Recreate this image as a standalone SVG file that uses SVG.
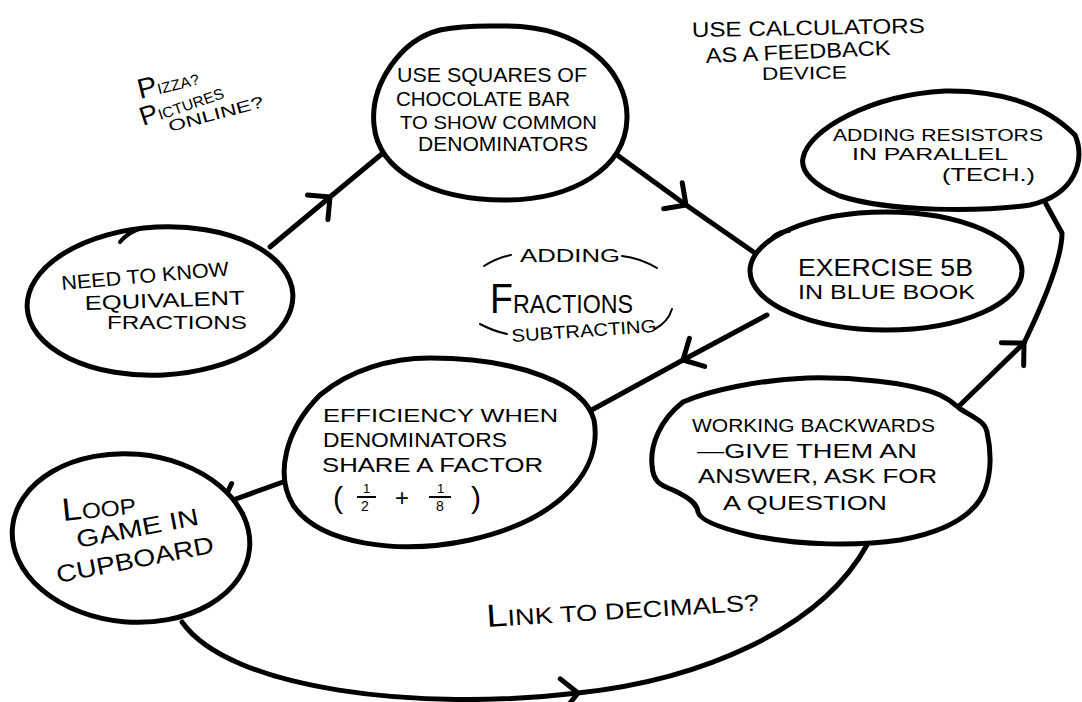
<svg xmlns="http://www.w3.org/2000/svg" width="1082" height="702" viewBox="0 0 1082 702">
<defs>
<style>
.bg{fill:#fff}
.node{fill:#fff;stroke:#000;stroke-width:5;stroke-linejoin:round}
.hook{fill:none;stroke:#000;stroke-width:4;stroke-linecap:round}
.con{fill:none;stroke:#000;stroke-width:5;stroke-linecap:round;stroke-linejoin:round}
.dash{fill:none;stroke:#000;stroke-width:2;stroke-linecap:round}
.t{font-family:"Liberation Sans",Arial,sans-serif;fill:#000}
.bar{stroke:#000;stroke-width:2}
</style>
<marker id="arr" markerUnits="userSpaceOnUse" viewBox="-24 -24 30 48" markerWidth="30" markerHeight="48" refX="0" refY="0" orient="auto" overflow="visible">
<path d="M -16 -16 L 0 0 L -16 16" fill="none" stroke="#000" stroke-width="5" stroke-linecap="round" stroke-linejoin="round"/>
</marker>
</defs>
<rect class="bg" x="0" y="0" width="1082" height="702"/>

<g id="connectors">
<path class="con" marker-mid="url(#arr)" d="M 270 247 L 330 197 L 383 153"/>
<path class="con" marker-mid="url(#arr)" d="M 613 152 L 686 205 L 755 253"/>
<path class="con" marker-mid="url(#arr)" d="M 767 315 L 683 360 L 588 412"/>
<path class="con" marker-end="url(#arr)" d="M 283 482 L 222 504"/>
<path class="con" marker-mid="url(#arr)" d="M 182 622 C 230 690 420 712 578 693 C 700 680 820 630 867 545"/>
<path class="con" marker-end="url(#arr)" d="M 958 407 L 1024 343"/>
<path class="con" d="M 1024 343 C 1040 310 1062 260 1062 233 L 1046 204"/>
</g>

<g id="note-pizza">
<text class="t" x="140" y="99" font-size="15" textLength="62" lengthAdjust="spacingAndGlyphs" transform="rotate(-14 140 99)"><tspan font-size="28">P</tspan>IZZA?</text>
<text class="t" x="143" y="126" font-size="15" textLength="87" lengthAdjust="spacingAndGlyphs" transform="rotate(-19 143 126)"><tspan font-size="26">P</tspan>ICTURES</text>
<text class="t" x="170" y="132" font-size="16" textLength="98" lengthAdjust="spacingAndGlyphs" transform="rotate(-15 170 132)">ONLINE?</text>
</g>

<g id="note-calculators">
<text class="t" x="692" y="37" font-size="21" textLength="233" lengthAdjust="spacingAndGlyphs" transform="rotate(-1 692 37)">USE CALCULATORS</text>
<text class="t" x="706" y="63" font-size="21" textLength="185" lengthAdjust="spacingAndGlyphs" transform="rotate(-2.5 706 63)">AS A FEEDBACK</text>
<text class="t" x="762" y="80" font-size="18" textLength="85" lengthAdjust="spacingAndGlyphs" transform="rotate(-1 762 80)">DEVICE</text>
</g>

<g id="title">
<path class="dash" d="M 484 266 Q 496 258 511 255"/>
<text class="t" x="520" y="262" font-size="18" textLength="100" lengthAdjust="spacingAndGlyphs">ADDING</text>
<path class="dash" d="M 622 256 Q 640 258 657 268"/>
<text class="t" x="490" y="313" font-size="26" textLength="143" lengthAdjust="spacingAndGlyphs"><tspan font-size="42">F</tspan>RACTIONS</text>
<path class="dash" d="M 480 324 Q 493 331 507 334"/>
<text class="t" x="512" y="342" font-size="18" textLength="145" lengthAdjust="spacingAndGlyphs" transform="rotate(-4 512 342)">SUBTRACTING</text>
<path class="dash" d="M 672 309 Q 668 322 655 329"/>
</g>

<g id="note-decimals">
<text class="t" x="487" y="627" font-size="23" textLength="273" lengthAdjust="spacingAndGlyphs" transform="rotate(-3.5 487 627)"><tspan font-size="32">L</tspan>INK TO DECIMALS?</text>
</g>

<g id="node-equivalent">
<ellipse class="node" cx="160" cy="301" rx="133" ry="74" transform="rotate(-3 160 301)"/>
<path class="hook" d="M 120 242 Q 128 232 142 228"/>
<text class="t" x="62" y="290" font-size="20" textLength="168" lengthAdjust="spacingAndGlyphs" transform="rotate(-5 62 290)">NEED TO KNOW</text>
<text class="t" x="85" y="310" font-size="20" textLength="160" lengthAdjust="spacingAndGlyphs" transform="rotate(-2 85 310)">EQUIVALENT</text>
<text class="t" x="107" y="329" font-size="19" textLength="140" lengthAdjust="spacingAndGlyphs">FRACTIONS</text>
</g>

<g id="node-chocolate">
<path class="node" d="M 500 26 C 580 24 628 70 627 118 C 626 170 570 200 505 200 C 430 200 378 170 374 125 C 370 85 400 40 440 30 C 465 25 485 26 500 26 Z"/>
<text class="t" x="397" y="82" font-size="21" textLength="190" lengthAdjust="spacingAndGlyphs">USE SQUARES OF</text>
<text class="t" x="396" y="106" font-size="21" textLength="174" lengthAdjust="spacingAndGlyphs">CHOCOLATE BAR</text>
<text class="t" x="400" y="129" font-size="19" textLength="197" lengthAdjust="spacingAndGlyphs">TO SHOW COMMON</text>
<text class="t" x="418" y="151" font-size="20" textLength="170" lengthAdjust="spacingAndGlyphs">DENOMINATORS</text>
</g>

<g id="node-resistors">
<path class="node" d="M 945 91 C 1010 90 1050 110 1075 135 C 1086 160 1075 195 1030 205 C 980 212 890 212 840 196 C 815 186 800 172 803 158 C 808 130 870 95 945 91 Z"/>
<text class="t" x="833" y="141" font-size="17" textLength="210" lengthAdjust="spacingAndGlyphs">ADDING RESISTORS</text>
<text class="t" x="852" y="160" font-size="16" textLength="156" lengthAdjust="spacingAndGlyphs">IN PARALLEL</text>
<text class="t" x="942" y="181" font-size="18" textLength="93" lengthAdjust="spacingAndGlyphs">(TECH.)</text>
</g>

<g id="node-exercise">
<ellipse class="node" cx="886" cy="271" rx="136" ry="59"/>
<path class="hook" d="M 773 237 Q 780 231 789 231"/>
<text class="t" x="798" y="276" font-size="24" textLength="175" lengthAdjust="spacingAndGlyphs">EXERCISE 5B</text>
<text class="t" x="798" y="299" font-size="20" textLength="177" lengthAdjust="spacingAndGlyphs">IN BLUE BOOK</text>
</g>

<g id="node-efficiency">
<path class="node" d="M 430 358 C 520 358 585 385 594 420 C 603 470 560 520 470 540 C 400 555 320 545 293 505 C 275 475 285 430 320 395 C 350 370 390 358 430 358 Z"/>
<text class="t" x="323" y="422" font-size="19" textLength="235" lengthAdjust="spacingAndGlyphs">EFFICIENCY WHEN</text>
<text class="t" x="323" y="447" font-size="20" textLength="184" lengthAdjust="spacingAndGlyphs">DENOMINATORS</text>
<text class="t" x="322" y="472" font-size="21" textLength="221" lengthAdjust="spacingAndGlyphs">SHARE A FACTOR</text>
<text class="t" x="333" y="508" font-size="30">(</text>
<text class="t" x="363" y="493" font-size="13">1</text>
<line class="bar" x1="357" y1="497" x2="376" y2="497"/>
<text class="t" x="361" y="511" font-size="14">2</text>
<text class="t" x="395" y="506" font-size="24">+</text>
<text class="t" x="437" y="493" font-size="13">1</text>
<line class="bar" x1="429" y1="497" x2="451" y2="497"/>
<text class="t" x="436" y="511" font-size="14">8</text>
<text class="t" x="471" y="508" font-size="30">)</text>
</g>

<g id="node-loop">
<ellipse class="node" cx="131" cy="538" rx="119" ry="84" transform="rotate(5 131 538)"/>
<text class="t" x="63" y="521" font-size="22" textLength="74" lengthAdjust="spacingAndGlyphs" transform="rotate(-6 63 521)"><tspan font-size="32">L</tspan>OOP</text>
<text class="t" x="78" y="548" font-size="24" textLength="124" lengthAdjust="spacingAndGlyphs" transform="rotate(-11 78 548)">GAME IN</text>
<text class="t" x="58" y="583" font-size="24" textLength="160" lengthAdjust="spacingAndGlyphs" transform="rotate(-11 58 583)">CUPBOARD</text>
</g>

<g id="node-backwards">
<path class="node" d="M 683 402 C 710 390 760 380 807 378 C 850 377 910 382 940 395 C 955 402 958 408 962 410 C 975 418 985 422 987 432 C 991 450 992 470 985 490 C 975 515 945 532 900 540 C 860 546 800 546 750 535 C 720 528 700 520 698 512 C 697 504 690 498 673 490 C 660 485 653 482 652 465 C 650 445 660 420 683 402 Z"/>
<text class="t" x="692" y="432" font-size="19" textLength="243" lengthAdjust="spacingAndGlyphs">WORKING BACKWARDS</text>
<text class="t" x="697" y="458" font-size="20" textLength="220" lengthAdjust="spacingAndGlyphs">—GIVE THEM AN</text>
<text class="t" x="698" y="483" font-size="20" textLength="239" lengthAdjust="spacingAndGlyphs">ANSWER, ASK FOR</text>
<text class="t" x="723" y="510" font-size="20" textLength="164" lengthAdjust="spacingAndGlyphs">A QUESTION</text>
</g>
</svg>
